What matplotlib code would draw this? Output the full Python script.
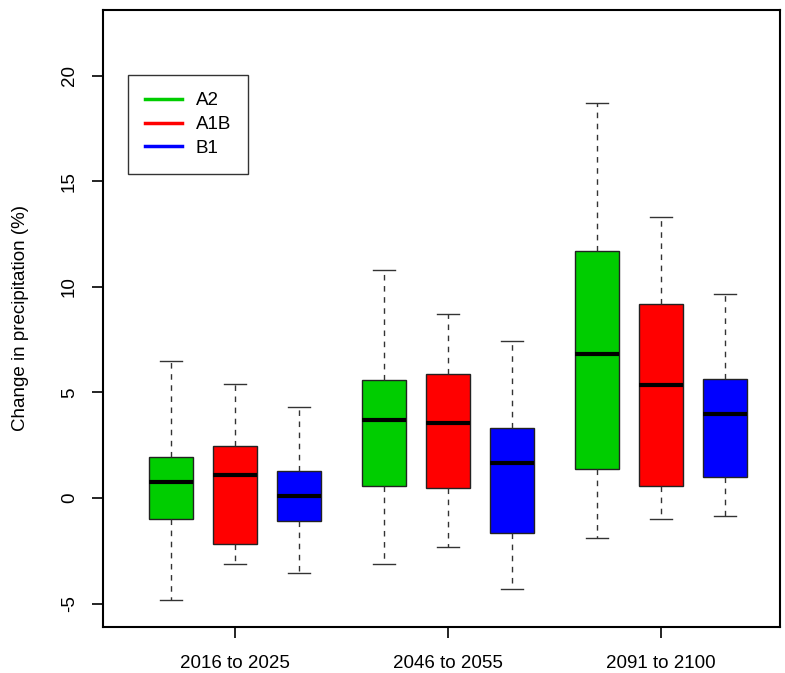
import matplotlib
matplotlib.use("Agg")
import matplotlib.pyplot as plt
from matplotlib.lines import Line2D

plt.rcParams["font.family"] = ["Liberation Sans", "DejaVu Sans"]

# periods and scenarios
periods = ["2016 to 2025", "2046 to 2055", "2091 to 2100"]
scenarios = ["A2", "A1B", "B1"]
colors = ["#00CD00", "#FF0000", "#0000FF"]

# box statistics per period, order A2, A1B, B1
whis_lo = [[-4.8, -3.1, -3.55], [-3.1, -2.3, -4.3], [-1.9, -1.0, -0.85]]
q1 = [[-1.0, -2.15, -1.1], [0.55, 0.5, -1.65], [1.4, 0.55, 1.0]]
median = [[0.75, 1.1, 0.1], [3.7, 3.55, 1.65], [6.8, 5.35, 4.0]]
q3 = [[1.95, 2.45, 1.3], [5.6, 5.85, 3.3], [11.7, 9.2, 5.65]]
whis_hi = [[6.5, 5.4, 4.3], [10.8, 8.7, 7.45], [18.7, 13.3, 9.65]]

stats = []
positions = []
box_colors = []
for g in range(len(periods)):
    for s in range(len(scenarios)):
        stats.append({
            "whislo": whis_lo[g][s], "q1": q1[g][s], "med": median[g][s],
            "q3": q3[g][s], "whishi": whis_hi[g][s], "fliers": [],
        })
        positions.append(1 + g * 3.33 + s)
        box_colors.append(colors[s])

fig = plt.figure(figsize=(7.85, 6.73), dpi=100)
ax = fig.add_axes([0.1312, 0.0684, 0.8624, 0.9167])

bp = ax.bxp(stats, positions=positions, widths=0.68, patch_artist=True,
            boxprops=dict(edgecolor="#222222", linewidth=1.0),
            medianprops=dict(color="black", linewidth=3),
            whiskerprops=dict(color="#333333", linewidth=1.0, linestyle=(0, (4, 4))),
            capprops=dict(color="#333333", linewidth=1.0),
            capwidths=0.34)
for patch, c in zip(bp["boxes"], box_colors):
    patch.set_facecolor(c)

ax.set_xlim(-0.06, 10.52)
ax.set_ylim(-6.1, 23.1)
ax.set_xticks([positions[1], positions[4], positions[7]])
ax.set_xticklabels(periods, fontsize=13.5)
ax.set_yticks([-5, 0, 5, 10, 15, 20])
ax.set_yticklabels(["-5", "0", "5", "10", "15", "20"], rotation=90, va="center", fontsize=13.5)
ax.tick_params(direction="out", length=8, width=1.2, pad=12)
ax.tick_params(axis="y", pad=10)
ax.set_ylabel("Change in precipitation (%)", fontsize=13.5, labelpad=23)
for sp in ax.spines.values():
    sp.set_linewidth(1.5)

handles = [Line2D([0], [0], color=c, lw=2.5) for c in colors]
leg = ax.legend(handles, scenarios, loc="upper left", bbox_to_anchor=(0.037, 0.894),
                frameon=True, fancybox=False, edgecolor="black", fontsize=13.5,
                handlelength=2.0, handletextpad=0.7, borderpad=0.9, labelspacing=0.35,
                borderaxespad=0)
leg.get_frame().set_linewidth(1.0)

fig.savefig("out.png", dpi=100)
